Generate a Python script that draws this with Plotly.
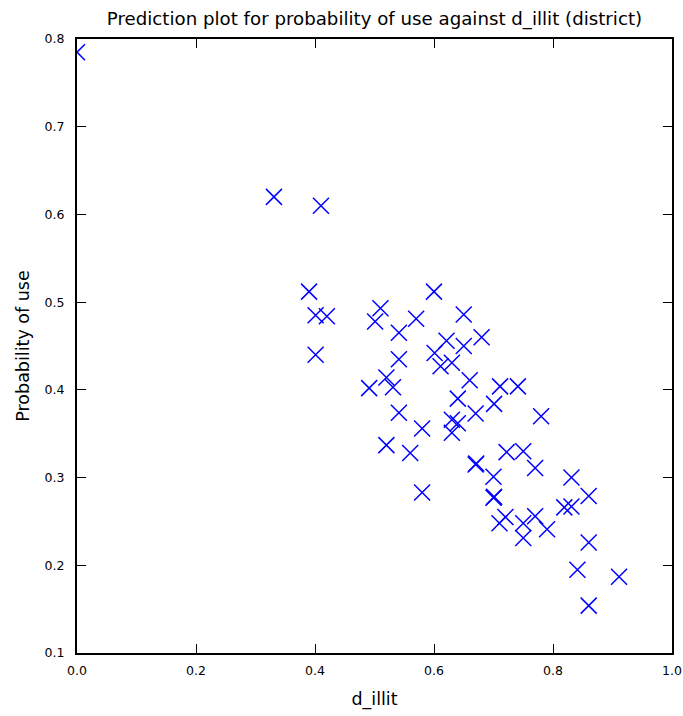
import plotly.graph_objects as go

d_illit = [0.000, 0.331, 0.410, 0.390, 0.600, 0.401, 0.420, 0.510, 0.501, 0.570,
           0.650, 0.541, 0.621, 0.650, 0.680, 0.601, 0.611, 0.630, 0.541, 0.401,
           0.491, 0.520, 0.531, 0.660, 0.711, 0.741, 0.640, 0.701, 0.541, 0.670,
           0.780, 0.580, 0.630, 0.640, 0.630, 0.520, 0.560, 0.722, 0.750, 0.670,
           0.671, 0.770, 0.700, 0.831, 0.580, 0.700, 0.701, 0.860, 0.819, 0.831,
           0.710, 0.720, 0.750, 0.770, 0.790, 0.750, 0.860, 0.841, 0.911, 0.860]
prob_use = [0.785, 0.620, 0.610, 0.512, 0.512, 0.485, 0.484, 0.493, 0.478, 0.481,
            0.486, 0.465, 0.456, 0.450, 0.460, 0.442, 0.427, 0.431, 0.435, 0.440,
            0.402, 0.414, 0.403, 0.411, 0.404, 0.404, 0.390, 0.384, 0.374, 0.373,
            0.370, 0.356, 0.366, 0.362, 0.351, 0.337, 0.328, 0.329, 0.330, 0.315,
            0.316, 0.311, 0.301, 0.300, 0.283, 0.277, 0.278, 0.279, 0.266, 0.267,
            0.248, 0.255, 0.248, 0.256, 0.241, 0.231, 0.226, 0.195, 0.187, 0.154]

x_ticks = [0.0, 0.2, 0.4, 0.6, 0.8, 1.0]
y_ticks = [0.1, 0.2, 0.3, 0.4, 0.5, 0.6, 0.7, 0.8]

FONT = "DejaVu Sans"

fig = go.Figure()
fig.add_trace(go.Scatter(
    x=d_illit, y=prob_use, mode="markers",
    marker=dict(symbol="x-thin", size=16, color="blue",
                line=dict(color="blue", width=1.5)),
    showlegend=False,
))

axis_common = dict(
    showline=True, linecolor="black", linewidth=2, mirror="allticks",
    ticks="inside", ticklen=9, tickwidth=1, tickcolor="black",
    showgrid=False, zeroline=False, automargin=False,
    tickfont=dict(family=FONT, size=12.5, color="black"),
)

fig.update_xaxes(range=[0, 1], tickvals=x_ticks, tickformat=".1f",
                 title=dict(text="d_illit", font=dict(family=FONT, size=17.5, color="black"),
                            standoff=16),
                 ticklabelstandoff=5, **axis_common)
fig.update_yaxes(range=[0.1, 0.8], tickvals=y_ticks, tickformat=".1f",
                 title=dict(text="Probability of use", font=dict(family=FONT, size=17.5, color="black"),
                            standoff=10),
                 ticklabelstandoff=8, **axis_common)

fig.update_layout(
    width=683, height=716, autosize=False,
    margin=dict(l=77, r=11, t=39, b=63),
    paper_bgcolor="white", plot_bgcolor="white",
    title=dict(text="Prediction plot for probability of use against d_illit (district)",
               x=(77 + 672) / 2 / 683, xanchor="center", y=1 - 19 / 716, yanchor="middle",
               font=dict(family=FONT, size=18.2, color="black"), automargin=False),
)

fig.write_html("out.html")
